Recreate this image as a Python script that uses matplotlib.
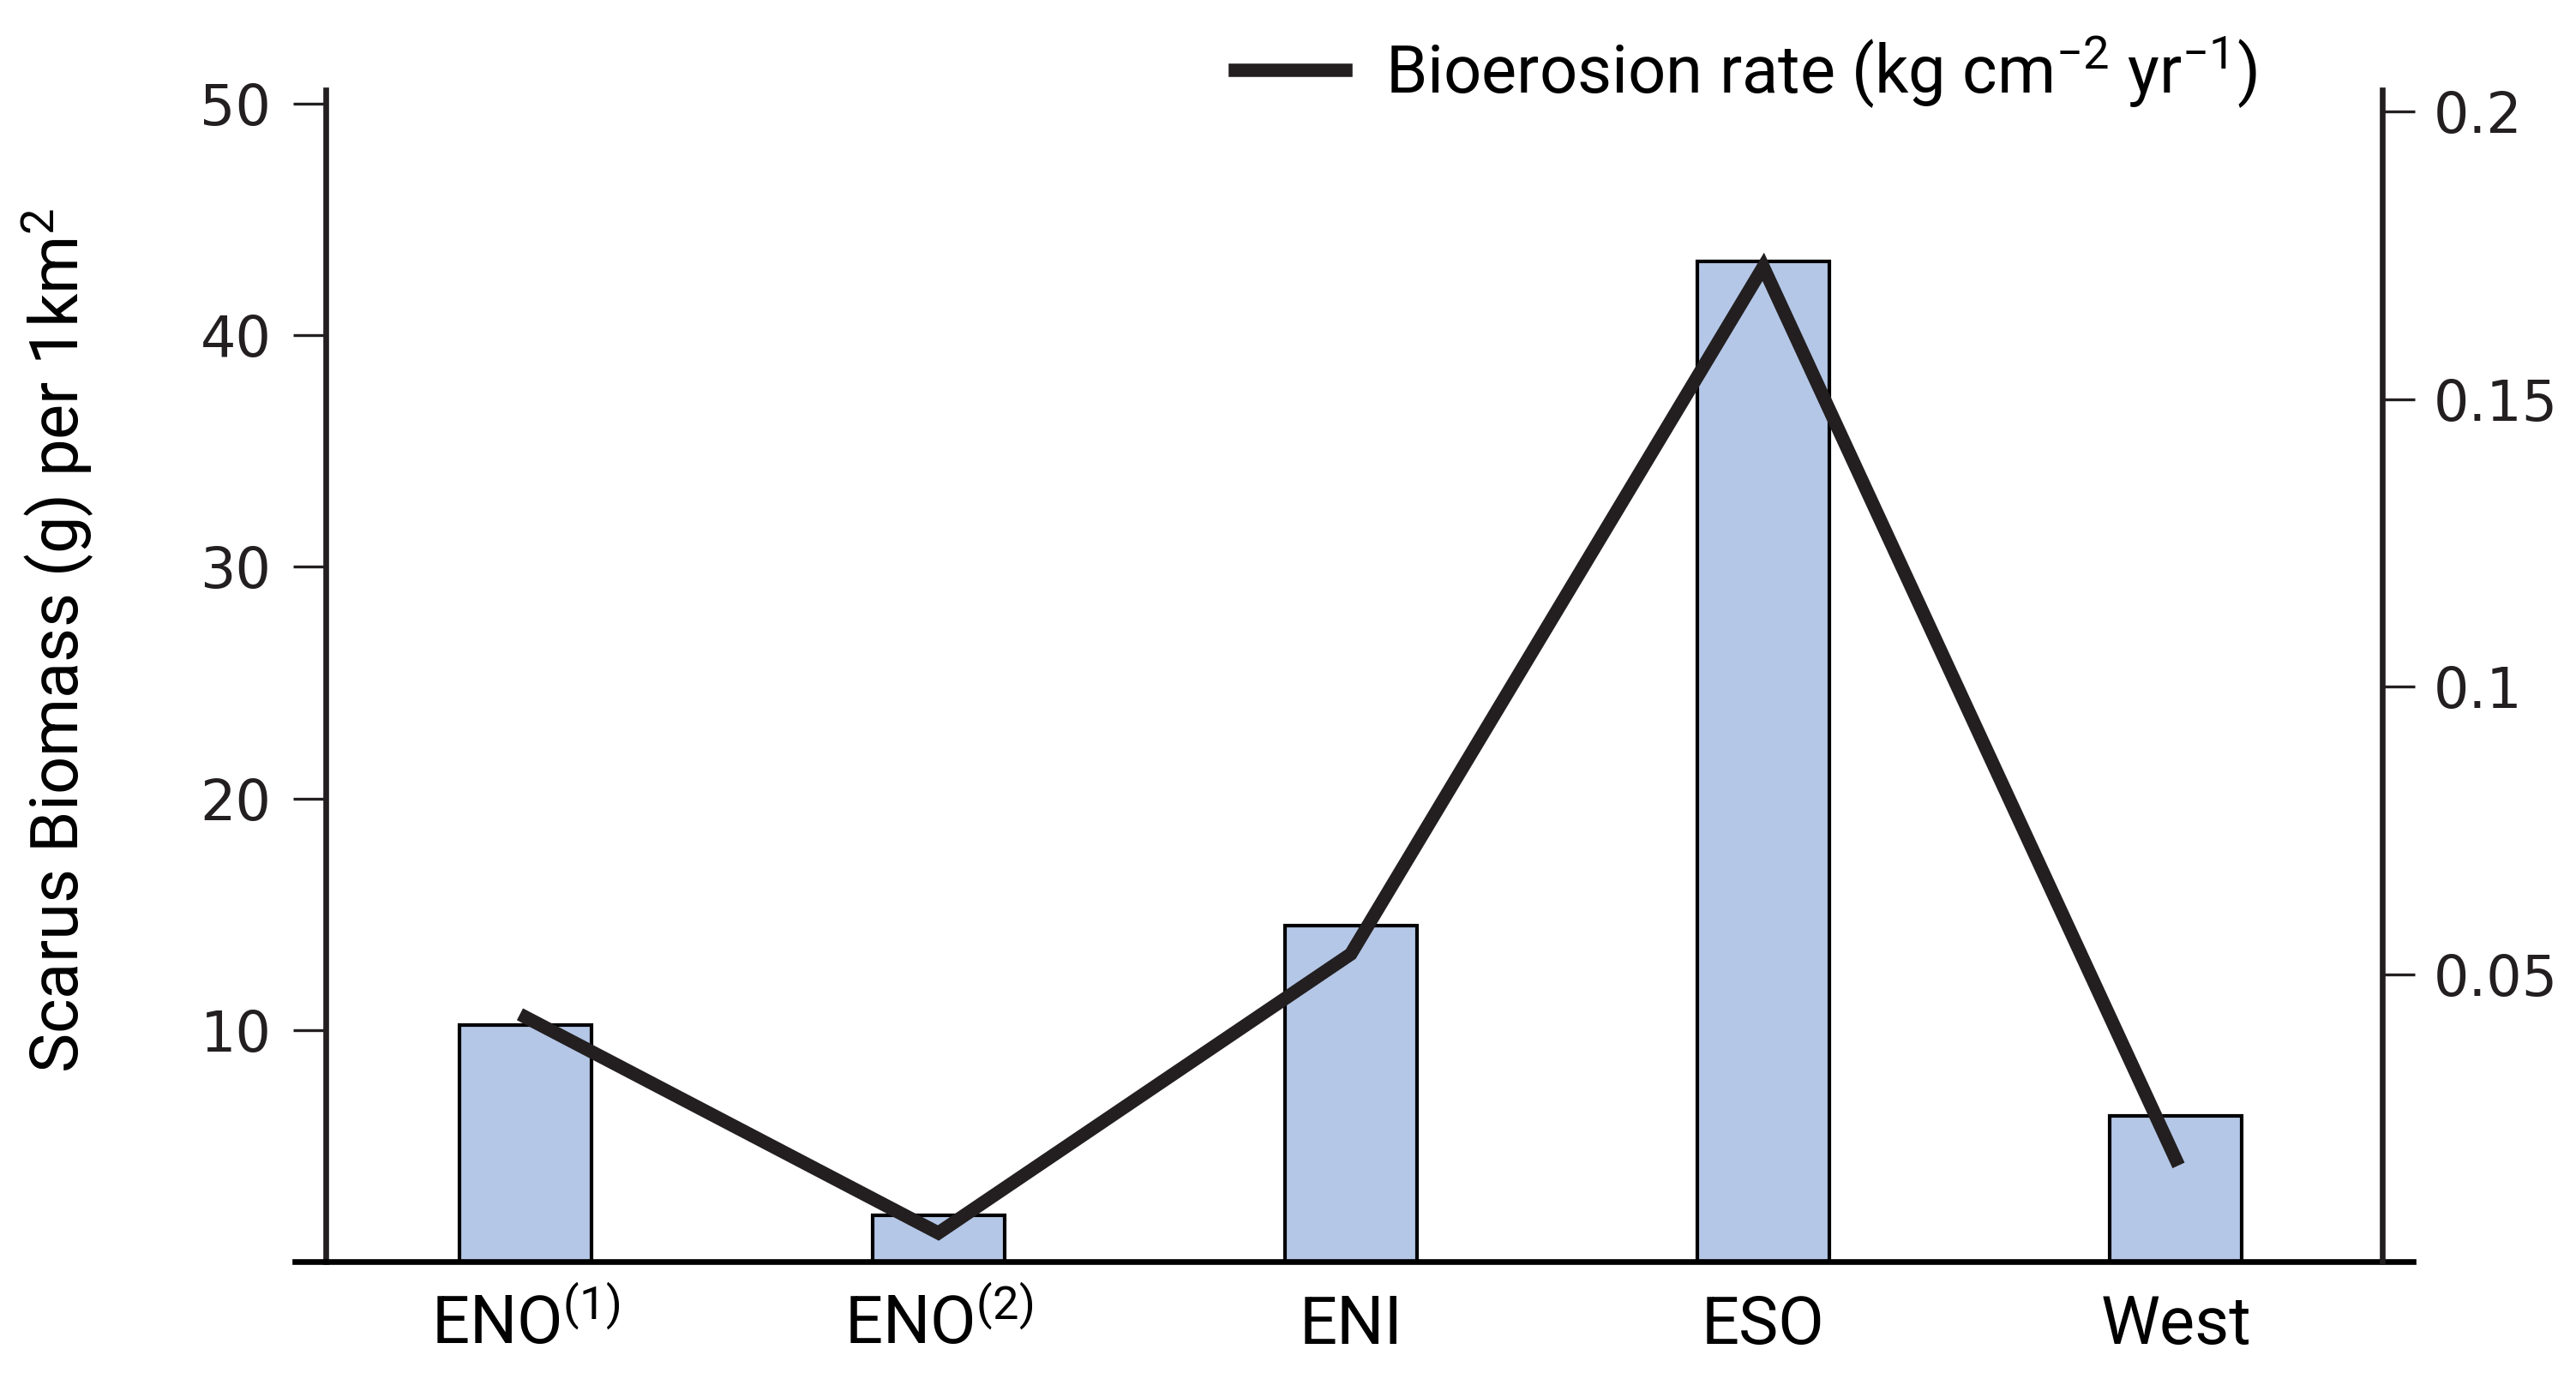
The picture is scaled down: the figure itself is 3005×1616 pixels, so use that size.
import matplotlib
matplotlib.use("Agg")
import matplotlib.pyplot as plt
from matplotlib import font_manager

# site data
sites = ["ENO$^{(1)}$", "ENO$^{(2)}$", "ENI", "ESO", "West"]
biomass = [10.2, 2.0, 14.5, 43.2, 6.3]            # g per 1 km2
bioerosion = [0.0425, 0.005, 0.0535, 0.173, 0.0178]  # kg cm-2 yr-1

left_ticks = [10, 20, 30, 40, 50]
right_ticks = [0.05, 0.1, 0.15, 0.2]
right_ticklabels = ["0.05", "0.1", "0.15", "0.2"]

names = {f.name for f in font_manager.fontManager.ttflist}
label_font = "Liberation Sans Narrow" if "Liberation Sans Narrow" in names else "Roboto"

plt.rcParams["font.family"] = [label_font, "DejaVu Sans"]
plt.rcParams["mathtext.fontset"] = "custom"
plt.rcParams["mathtext.rm"] = label_font
plt.rcParams["mathtext.default"] = "regular"

ink = "#231f20"
bar_color = "#b4c7e7"

fig = plt.figure(figsize=(15.025, 8.08), dpi=200)
ax = fig.add_axes([0.1263, 0.0890, 0.9247 - 0.1263, 0.9348 - 0.0890])
ax2 = ax.twinx()

x = list(range(len(sites)))
ax.bar(x, biomass, width=0.32, color=bar_color, edgecolor="black", linewidth=1.5, zorder=2)
ax2.plot(x, bioerosion, color=ink, linewidth=5.6, solid_joinstyle="miter",
         label="Bioerosion rate (kg cm$^{-2}$ yr$^{-1}$)", zorder=3)

ax.set_xlim(-0.486, 4.50)
ax.set_ylim(0, 50.57)
ax2.set_ylim(0, 0.2037)

# spines
for s in ["top", "right"]:
    ax.spines[s].set_visible(False)
for s in ["top", "left", "bottom"]:
    ax2.spines[s].set_visible(False)
ax.spines["left"].set_linewidth(2.4)
ax.spines["left"].set_color(ink)
ax2.spines["right"].set_linewidth(2.4)
ax2.spines["right"].set_color(ink)
ax.spines["bottom"].set_linewidth(2.4)
ax.spines["bottom"].set_color("black")
ax.spines["bottom"].set_bounds(-0.56, 4.575)

# left axis ticks
ax.set_yticks(left_ticks)
ax.tick_params(axis="y", direction="out", length=13.7, width=1.2, color=ink,
               pad=9, labelsize=23.5, labelcolor=ink)
for t in ax.get_yticklabels():
    t.set_fontfamily("DejaVu Sans")

# right axis ticks
ax2.set_yticks(right_ticks)
ax2.set_yticklabels(right_ticklabels)
ax2.tick_params(axis="y", direction="out", length=13.7, width=1.2, color=ink,
                pad=8, labelsize=23.5, labelcolor=ink)
for t in ax2.get_yticklabels():
    t.set_fontfamily("DejaVu Sans")

# x ticks
ax.set_xticks(x)
ax.set_xticklabels(sites, fontsize=28)
ax.tick_params(axis="x", length=0, pad=34.5)
for t in ax.get_xticklabels():
    t.set_verticalalignment("baseline")

ax.set_ylabel("Scarus Biomass (g) per 1km$^{2}$", fontsize=28, va="center")
ax.yaxis.set_label_coords(-0.1302, 0.530)

fig.legend(loc="center left", bbox_to_anchor=(0.4796, 0.948), frameon=False,
           fontsize=28, handlelength=1.65, handletextpad=0.6, borderpad=0,
           borderaxespad=0)

fig.savefig("out.png", dpi=200)
